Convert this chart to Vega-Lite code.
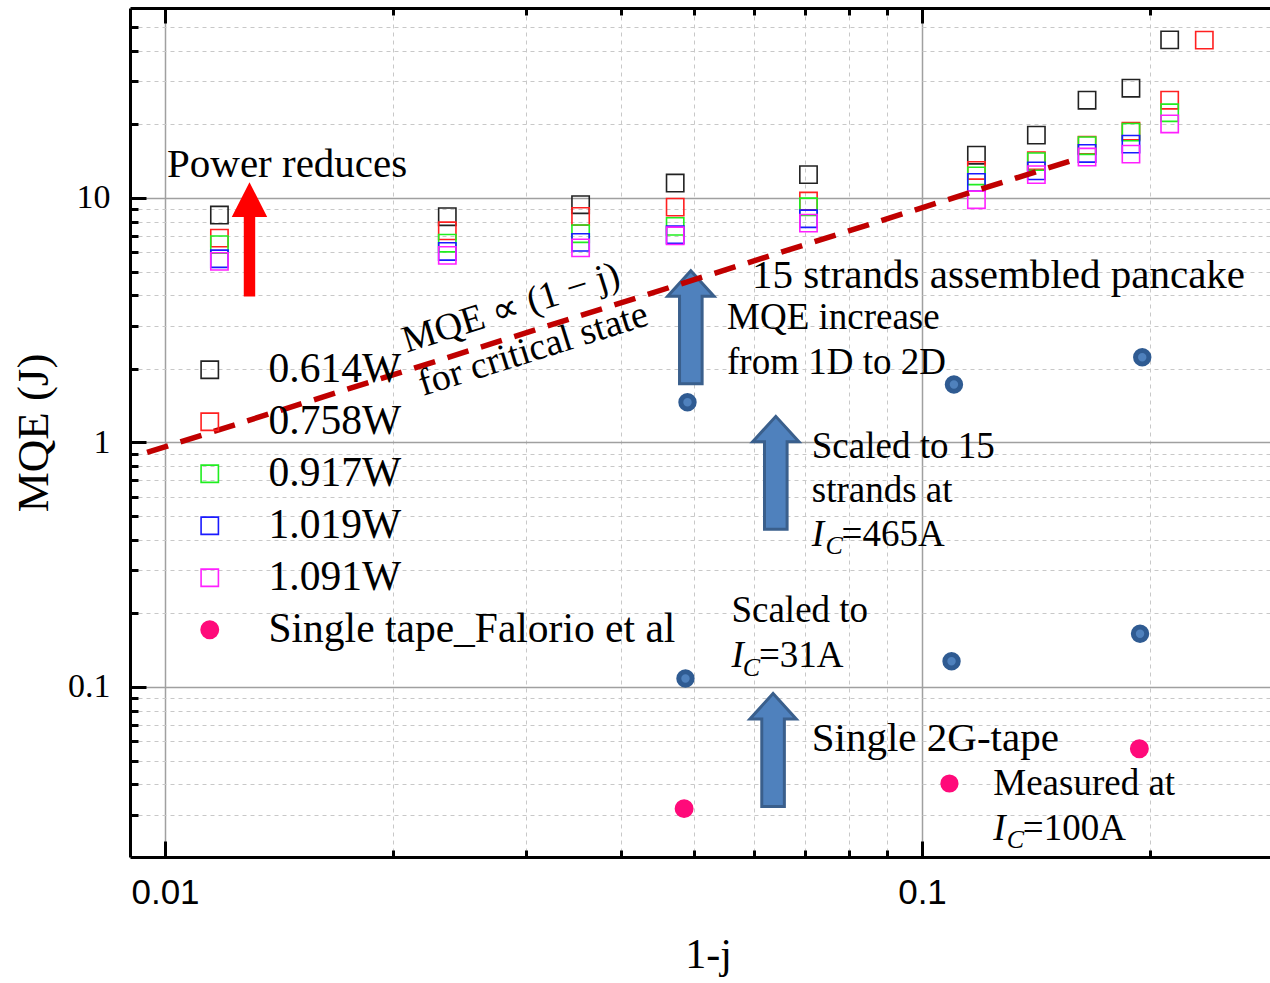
{
  "$schema": "https://vega.github.io/schema/vega-lite/v6.json",
  "width": 1140,
  "height": 849,
  "autosize": {"type": "none"},
  "padding": {"left": 130, "top": 8, "right": 0, "bottom": 126},
  "background": "#ffffff",
  "config": {"view": {"stroke": null}, "font": "Liberation Serif"},
  "resolve": {"axis": {"x": "independent", "y": "independent"}},
  "datasets": {
    "pts": [
      {"series": "0.614W", "x": 0.0118, "y": 8.51},
      {"series": "0.614W", "x": 0.0236, "y": 8.38},
      {"series": "0.614W", "x": 0.0354, "y": 9.38},
      {"series": "0.614W", "x": 0.0472, "y": 11.5},
      {"series": "0.614W", "x": 0.0708, "y": 12.45},
      {"series": "0.614W", "x": 0.118, "y": 14.95},
      {"series": "0.614W", "x": 0.1416, "y": 18.06},
      {"series": "0.614W", "x": 0.1652, "y": 25.1},
      {"series": "0.614W", "x": 0.1888, "y": 28.1},
      {"series": "0.614W", "x": 0.2124, "y": 44.3},
      {"series": "0.758W", "x": 0.0118, "y": 6.85},
      {"series": "0.758W", "x": 0.0236, "y": 7.34},
      {"series": "0.758W", "x": 0.0354, "y": 8.4},
      {"series": "0.758W", "x": 0.0472, "y": 9.17},
      {"series": "0.758W", "x": 0.0708, "y": 9.71},
      {"series": "0.758W", "x": 0.118, "y": 12.95},
      {"series": "0.758W", "x": 0.1416, "y": 14.2},
      {"series": "0.758W", "x": 0.1652, "y": 16.44},
      {"series": "0.758W", "x": 0.1888, "y": 18.76},
      {"series": "0.758W", "x": 0.2124, "y": 25.1},
      {"series": "0.758W", "x": 0.236, "y": 44.2},
      {"series": "0.917W", "x": 0.0118, "y": 6.44},
      {"series": "0.917W", "x": 0.0236, "y": 6.53},
      {"series": "0.917W", "x": 0.0354, "y": 7.14},
      {"series": "0.917W", "x": 0.0472, "y": 7.65},
      {"series": "0.917W", "x": 0.0708, "y": 9.2},
      {"series": "0.917W", "x": 0.118, "y": 12.3},
      {"series": "0.917W", "x": 0.1416, "y": 14.08},
      {"series": "0.917W", "x": 0.1652, "y": 16.35},
      {"series": "0.917W", "x": 0.1888, "y": 18.58},
      {"series": "0.917W", "x": 0.2124, "y": 22.3},
      {"series": "1.019W", "x": 0.0118, "y": 5.64},
      {"series": "1.019W", "x": 0.0236, "y": 6.04},
      {"series": "1.019W", "x": 0.0354, "y": 6.58},
      {"series": "1.019W", "x": 0.0472, "y": 7.07},
      {"series": "1.019W", "x": 0.0708, "y": 8.22},
      {"series": "1.019W", "x": 0.118, "y": 11.57},
      {"series": "1.019W", "x": 0.1416, "y": 12.9},
      {"series": "1.019W", "x": 0.1652, "y": 15.2},
      {"series": "1.019W", "x": 0.1888, "y": 16.6},
      {"series": "1.091W", "x": 0.0118, "y": 5.5},
      {"series": "1.091W", "x": 0.0236, "y": 5.82},
      {"series": "1.091W", "x": 0.0354, "y": 6.25},
      {"series": "1.091W", "x": 0.0472, "y": 7.0},
      {"series": "1.091W", "x": 0.0708, "y": 7.89},
      {"series": "1.091W", "x": 0.118, "y": 9.83},
      {"series": "1.091W", "x": 0.1416, "y": 12.45},
      {"series": "1.091W", "x": 0.1652, "y": 14.69},
      {"series": "1.091W", "x": 0.1888, "y": 15.1},
      {"series": "1.091W", "x": 0.2124, "y": 20.07},
      {"series": "Single tape_Falorio et al", "x": 0.0485, "y": 0.0318},
      {"series": "Single tape_Falorio et al", "x": 0.1937, "y": 0.0559}
    ],
    "blue": [
      {"x": 0.049, "y": 1.46},
      {"x": 0.1102, "y": 1.727},
      {"x": 0.1954, "y": 2.23},
      {"x": 0.0487, "y": 0.1083},
      {"x": 0.1094, "y": 0.1275},
      {"x": 0.1941, "y": 0.165}
    ],
    "pinkmark": [{"x": 0.1087, "y": 0.0403}],
    "arrowsBlue": [
      {"x": 0.0495, "y": 2.957},
      {"x": 0.0641, "y": 0.751},
      {"x": 0.06357, "y": 0.05526}
    ],
    "arrowRed": [{"x": 0.01293, "y": 6.77}],
    "fit": [
      {"x": 0.00947, "y": 0.91},
      {"x": 0.1593, "y": 14.37}
    ],
    "txt40": [
      {"text": "Power reduces", "x": 0.01006, "y": 12.13},
      {"text": "15 strands assembled pancake", "x": 0.05964, "y": 4.265},
      {"text": "Single 2G-tape", "x": 0.07151, "y": 0.05463}
    ],
    "txt37": [
      {"text": "MQE increase", "x": 0.05526, "y": 2.899},
      {"text": "from 1D to 2D", "x": 0.05526, "y": 1.897},
      {"text": "Scaled to 15", "x": 0.07151, "y": 0.8658},
      {"text": "strands at", "x": 0.07151, "y": 0.5722},
      {"text": "=465A", "x": 0.0783, "y": 0.3766},
      {"text": "Scaled to", "x": 0.05601, "y": 0.1841},
      {"text": "=31A", "x": 0.0609, "y": 0.121},
      {"text": "Measured at", "x": 0.1242, "y": 0.03633},
      {"text": "=100A", "x": 0.1359, "y": 0.02378}
    ],
    "italI": [
      {"text": "I", "x": 0.07151, "y": 0.3766},
      {"text": "I", "x": 0.05601, "y": 0.121},
      {"text": "I", "x": 0.1242, "y": 0.02378}
    ],
    "subC": [
      {"text": "C", "x": 0.07457, "y": 0.3482},
      {"text": "C", "x": 0.05799, "y": 0.1107},
      {"text": "C", "x": 0.1294, "y": 0.02199}
    ],
    "rot": [
      {"text": "MQE ∝ (1 − j)", "x": 0.02086, "y": 2.327},
      {"text": "for critical state", "x": 0.02192, "y": 1.547}
    ]
  },
  "layer": [
    {
      "data": {"name": "pts"},
      "mark": {"type": "point", "filled": false, "opacity": 1, "size": 300, "strokeWidth": 1.6},
      "encoding": {
        "x": {
          "field": "x", "type": "quantitative",
          "scale": {"type": "log", "domain": [0.00899, 0.2882], "nice": false, "zero": false},
          "axis": {
            "orient": "bottom", "values": [0.01, 0.1],
            "labelExpr": "datum.value < 0.05 ? '0.01' : '0.1'",
            "tickSize": -16, "tickWidth": 3, "tickColor": "#000000",
            "domain": true, "domainColor": "#000000", "domainWidth": 3,
            "labelFont": "Liberation Sans", "labelFontSize": 35, "labelColor": "#000000", "labelPadding": 34,
            "labelFlush": false, "labelOverlap": false,
            "grid": true, "gridColor": "#a0a0a0", "gridWidth": 1.5,
            "title": "1-j", "titleFont": "Liberation Serif", "titleFontSize": 42, "titleFontWeight": "normal",
            "titleColor": "#000000", "titlePadding": 24, "titleX": 578
          }
        },
        "y": {
          "field": "y", "type": "quantitative",
          "scale": {"type": "log", "domain": [0.02017, 59.8], "nice": false, "zero": false},
          "axis": {
            "orient": "left", "values": [0.1, 1, 10],
            "labelExpr": "datum.value < 0.5 ? '0.1' : (datum.value < 5 ? '1' : '10')",
            "tickSize": -16, "tickWidth": 3, "tickColor": "#000000",
            "domain": true, "domainColor": "#000000", "domainWidth": 3,
            "labelFont": "Liberation Serif", "labelFontSize": 34, "labelColor": "#000000", "labelPadding": 36,
            "labelOverlap": false,
            "grid": true, "gridColor": "#a0a0a0", "gridWidth": 1.5,
            "title": "MQE (J)", "titleFont": "Liberation Serif", "titleFontSize": 45, "titleFontWeight": "normal",
            "titleColor": "#000000", "titlePadding": 11
          }
        },
        "stroke": {
          "field": "series", "type": "nominal",
          "scale": {"domain": ["0.614W", "0.758W", "0.917W", "1.019W", "1.091W", "Single tape_Falorio et al"],
                    "range": ["#222222", "#ff2020", "#20ee20", "#1a1aff", "#ff20ff", "#ff0a7a"]},
          "legend": {"title": null, "orient": "none", "legendX": 59, "legendY": 341, "padding": 0,
                     "labelFont": "Liberation Serif", "labelFontSize": 41.5, "labelColor": "#000000", "labelLimit": 700,
                     "symbolSize": 300, "symbolStrokeWidth": 1.6, "rowPadding": 9, "labelOffset": 38}
        },
        "fill": {
          "field": "series", "type": "nominal",
          "scale": {"domain": ["0.614W", "0.758W", "0.917W", "1.019W", "1.091W", "Single tape_Falorio et al"],
                    "range": ["transparent", "transparent", "transparent", "transparent", "transparent", "#ff0a7a"]},
          "legend": {"title": null, "orient": "none", "legendX": 59, "legendY": 341, "padding": 0,
                     "labelFont": "Liberation Serif", "labelFontSize": 41.5, "labelColor": "#000000", "labelLimit": 700,
                     "symbolSize": 300, "symbolStrokeWidth": 1.6, "rowPadding": 9, "labelOffset": 38}
        },
        "shape": {
          "field": "series", "type": "nominal",
          "scale": {"domain": ["0.614W", "0.758W", "0.917W", "1.019W", "1.091W", "Single tape_Falorio et al"],
                    "range": ["square", "square", "square", "square", "square", "circle"]},
          "legend": {"title": null, "orient": "none", "legendX": 59, "legendY": 341, "padding": 0,
                     "labelFont": "Liberation Serif", "labelFontSize": 41.5, "labelColor": "#000000", "labelLimit": 700,
                     "symbolSize": 300, "symbolStrokeWidth": 1.6, "rowPadding": 9, "labelOffset": 38}
        }
      }
    },
    {
      "data": {"name": "blue"},
      "mark": {"type": "point", "filled": true, "opacity": 1, "size": 180, "fill": "#4f81bd", "stroke": "#2f5b92", "strokeWidth": 5, "shape": "circle"},
      "encoding": {
        "x": {
          "field": "x", "type": "quantitative",
          "scale": {"type": "log", "domain": [0.00899, 0.2882], "nice": false, "zero": false},
          "axis": {
            "orient": "bottom", "values": [0.02, 0.03, 0.04, 0.05, 0.06, 0.07, 0.08, 0.09, 0.2],
            "labels": false, "tickSize": -7, "tickWidth": 3, "tickColor": "#000000", "domain": false,
            "grid": true, "gridColor": "#c8c8c8", "gridWidth": 1, "gridDash": [4, 4], "title": null
          }
        },
        "y": {
          "field": "y", "type": "quantitative",
          "scale": {"type": "log", "domain": [0.02017, 59.8], "nice": false, "zero": false},
          "axis": {
            "orient": "left",
            "values": [0.03, 0.04, 0.05, 0.06, 0.07, 0.08, 0.09, 0.2, 0.3, 0.4, 0.5, 0.6, 0.7, 0.8, 0.9, 2, 3, 4, 5, 6, 7, 8, 9, 20, 30, 40, 50],
            "labels": false, "tickSize": -8, "tickWidth": 3, "tickColor": "#000000", "domain": false,
            "grid": true, "gridColor": "#c8c8c8", "gridWidth": 1, "gridDash": [4, 4], "title": null
          }
        }
      }
    },
    {
      "data": {"name": "pinkmark"},
      "mark": {"type": "point", "filled": true, "opacity": 1, "size": 330, "fill": "#ff0a7a", "strokeWidth": 0, "shape": "circle"},
      "encoding": {
        "x": {
          "field": "x", "type": "quantitative",
          "scale": {"type": "log", "domain": [0.00899, 0.2882], "nice": false, "zero": false},
          "axis": {
            "orient": "top", "values": [0.01, 0.1], "labels": false,
            "tickSize": -15, "tickWidth": 3, "tickColor": "#000000",
            "domain": true, "domainColor": "#000000", "domainWidth": 3, "grid": false, "title": null
          }
        },
        "y": {
          "field": "y", "type": "quantitative",
          "scale": {"type": "log", "domain": [0.02017, 59.8], "nice": false, "zero": false},
          "axis": null
        }
      }
    },
    {
      "data": {"name": "arrowsBlue"},
      "mark": {"type": "point", "filled": true, "opacity": 1, "size": 12769, "fill": "#4f81bd", "stroke": "#3a5f8c", "strokeWidth": 3,
               "shape": "M -0.2 1 L -0.2 -0.55 L -0.41 -0.55 L 0 -1 L 0.41 -0.55 L 0.2 -0.55 L 0.2 1 Z"},
      "encoding": {
        "x": {
          "field": "x", "type": "quantitative",
          "scale": {"type": "log", "domain": [0.00899, 0.2882], "nice": false, "zero": false},
          "axis": {
            "orient": "top", "values": [0.02, 0.03, 0.04, 0.05, 0.06, 0.07, 0.08, 0.09, 0.2],
            "labels": false, "tickSize": -7, "tickWidth": 3, "tickColor": "#000000",
            "domain": false, "grid": false, "title": null
          }
        },
        "y": {
          "field": "y", "type": "quantitative",
          "scale": {"type": "log", "domain": [0.02017, 59.8], "nice": false, "zero": false},
          "axis": null
        }
      }
    },
    {
      "data": {"name": "arrowRed"},
      "mark": {"type": "point", "filled": true, "opacity": 1, "size": 13064, "fill": "#ff0000", "strokeWidth": 0,
               "shape": "M -0.1 1 L -0.1 -0.39 L -0.31 -0.39 L 0 -1 L 0.31 -0.39 L 0.1 -0.39 L 0.1 1 Z"},
      "encoding": {
        "x": {"field": "x", "type": "quantitative", "scale": {"type": "log", "domain": [0.00899, 0.2882], "nice": false, "zero": false}, "axis": null},
        "y": {"field": "y", "type": "quantitative", "scale": {"type": "log", "domain": [0.02017, 59.8], "nice": false, "zero": false}, "axis": null}
      }
    },
    {
      "data": {"name": "fit"},
      "mark": {"type": "line", "color": "#c00000", "strokeWidth": 5.5, "strokeDash": [22, 13]},
      "encoding": {
        "x": {"field": "x", "type": "quantitative", "scale": {"type": "log", "domain": [0.00899, 0.2882], "nice": false, "zero": false}, "axis": null},
        "y": {"field": "y", "type": "quantitative", "scale": {"type": "log", "domain": [0.02017, 59.8], "nice": false, "zero": false}, "axis": null}
      }
    },
    {
      "data": {"name": "txt40"},
      "mark": {"type": "text", "align": "left", "baseline": "alphabetic", "font": "Liberation Serif", "fontSize": 41, "color": "#000000"},
      "encoding": {
        "x": {"field": "x", "type": "quantitative", "scale": {"type": "log", "domain": [0.00899, 0.2882], "nice": false, "zero": false}, "axis": null},
        "y": {"field": "y", "type": "quantitative", "scale": {"type": "log", "domain": [0.02017, 59.8], "nice": false, "zero": false}, "axis": null},
        "text": {"field": "text"}
      }
    },
    {
      "data": {"name": "txt37"},
      "mark": {"type": "text", "align": "left", "baseline": "alphabetic", "font": "Liberation Serif", "fontSize": 37, "color": "#000000"},
      "encoding": {
        "x": {"field": "x", "type": "quantitative", "scale": {"type": "log", "domain": [0.00899, 0.2882], "nice": false, "zero": false}, "axis": null},
        "y": {"field": "y", "type": "quantitative", "scale": {"type": "log", "domain": [0.02017, 59.8], "nice": false, "zero": false}, "axis": null},
        "text": {"field": "text"}
      }
    },
    {
      "data": {"name": "italI"},
      "mark": {"type": "text", "align": "left", "baseline": "alphabetic", "font": "Liberation Serif", "fontStyle": "italic", "fontSize": 37, "color": "#000000"},
      "encoding": {
        "x": {"field": "x", "type": "quantitative", "scale": {"type": "log", "domain": [0.00899, 0.2882], "nice": false, "zero": false}, "axis": null},
        "y": {"field": "y", "type": "quantitative", "scale": {"type": "log", "domain": [0.02017, 59.8], "nice": false, "zero": false}, "axis": null},
        "text": {"field": "text"}
      }
    },
    {
      "data": {"name": "subC"},
      "mark": {"type": "text", "align": "left", "baseline": "alphabetic", "font": "Liberation Serif", "fontStyle": "italic", "fontSize": 26, "color": "#000000"},
      "encoding": {
        "x": {"field": "x", "type": "quantitative", "scale": {"type": "log", "domain": [0.00899, 0.2882], "nice": false, "zero": false}, "axis": null},
        "y": {"field": "y", "type": "quantitative", "scale": {"type": "log", "domain": [0.02017, 59.8], "nice": false, "zero": false}, "axis": null},
        "text": {"field": "text"}
      }
    },
    {
      "data": {"name": "rot"},
      "mark": {"type": "text", "align": "left", "baseline": "alphabetic", "font": "Liberation Serif", "fontSize": 38, "angle": -17.5, "color": "#000000"},
      "encoding": {
        "x": {"field": "x", "type": "quantitative", "scale": {"type": "log", "domain": [0.00899, 0.2882], "nice": false, "zero": false}, "axis": null},
        "y": {"field": "y", "type": "quantitative", "scale": {"type": "log", "domain": [0.02017, 59.8], "nice": false, "zero": false}, "axis": null},
        "text": {"field": "text"}
      }
    }
  ]
}
